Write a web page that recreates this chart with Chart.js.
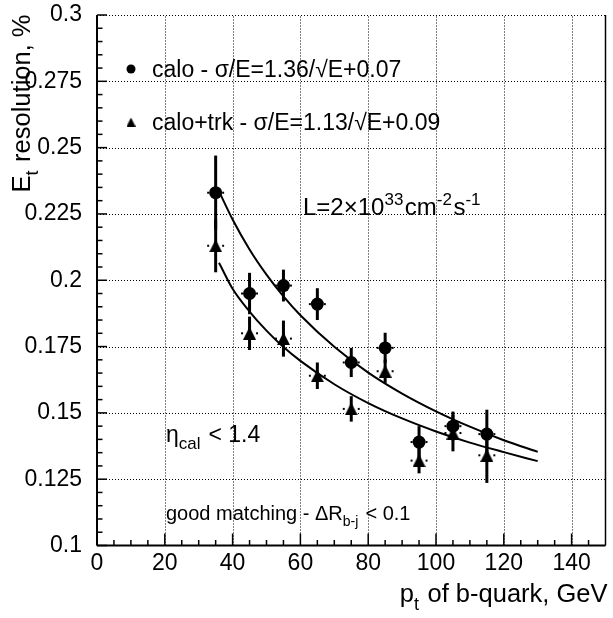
<!DOCTYPE html>
<html lang="en">
<head>
<meta charset="UTF-8" />
<title>Et resolution vs pt of b-quark</title>
<script src="https://cdn.jsdelivr.net/npm/chart.js"></script>
<style>
  html, body { margin: 0; padding: 0; background: #fff; }
</style>
</head>
<body>
<canvas id="resChart" width="613" height="618"></canvas>
<script>
// measured points, pt bin centres in GeV
const ptBins = [35, 45, 55, 65, 75, 85, 95, 105, 115];
const caloRes = [0.233, 0.195, 0.198, 0.191, 0.169, 0.1745, 0.139, 0.145, 0.142];
const caloErr = [0.014, 0.0078, 0.006, 0.006, 0.0055, 0.0057, 0.006, 0.0055, 0.0092];
const trkRes = [0.213, 0.180, 0.178, 0.164, 0.1515, 0.1657, 0.132, 0.1424, 0.134];
const trkErr = [0.010, 0.0063, 0.0068, 0.005, 0.0048, 0.0044, 0.0048, 0.0069, 0.0104];
const ptErr = 2.5;

// fitted curves
const fitPt = [36, 40, 45, 50, 55, 60, 70, 80, 90, 100, 110, 120, 130];
const caloFit = [0.2335, 0.2229, 0.2116, 0.2021, 0.1939, 0.1868, 0.1749, 0.1652, 0.1573, 0.1506, 0.1448, 0.1397, 0.1353];
const trkFit = [0.2066, 0.1968, 0.1882, 0.1810, 0.1748, 0.1696, 0.1608, 0.1537, 0.1479, 0.1430, 0.1388, 0.1352, 0.1318];

const FONT = '"Liberation Sans", Arial, Helvetica, sans-serif';

function pts(xs, ys) {
  return xs.map((x, i) => ({ x: x, y: ys[i] }));
}

function triangleMarker(w, h) {
  const c = document.createElement('canvas');
  c.width = w;
  c.height = h;
  const g = c.getContext('2d');
  g.fillStyle = '#000';
  g.beginPath();
  g.moveTo(w / 2, 0);
  g.lineTo(w, h);
  g.lineTo(0, h);
  g.closePath();
  g.fill();
  return c;
}

// parts: [text, 'n' | 'sub' | 'sup']
function richText(ctx, x, y, parts, size, align) {
  const fontFor = (m) => (m === 'n' ? size : Math.round(size * 0.72)) + 'px ' + FONT;
  let w = 0;
  parts.forEach(([t, m]) => { ctx.font = fontFor(m); w += ctx.measureText(t).width; });
  let cx = align === 'right' ? x - w : x;
  ctx.textAlign = 'left';
  ctx.textBaseline = 'alphabetic';
  ctx.fillStyle = '#000';
  parts.forEach(([t, m]) => {
    ctx.font = fontFor(m);
    let dy = 0;
    if (m === 'sub') dy = size * 0.3;
    if (m === 'sup') dy = -size * 0.42;
    ctx.fillText(t, cx, y + dy);
    cx += ctx.measureText(t).width + (m === 'n' ? 0 : 1.5);
  });
}

function line(ctx, x1, y1, x2, y2) {
  ctx.beginPath();
  ctx.moveTo(x1, y1);
  ctx.lineTo(x2, y2);
  ctx.stroke();
}

const rootFrame = {
  id: 'rootFrame',
  beforeDatasetsDraw(chart) {
    const ctx = chart.ctx;
    const sx = chart.scales.x, sy = chart.scales.y;
    const L = sx.left, R = sx.right, T = sy.top, B = sy.bottom;
    ctx.save();
    // dotted grid
    ctx.strokeStyle = '#000';
    ctx.lineWidth = 1;
    ctx.setLineDash([1, 2]);
    for (let v = 20; v < 150; v += 20) {
      const p = Math.round(sx.getPixelForValue(v)) + 0.5;
      line(ctx, p, B, p, T);
    }
    for (let k = 1; k <= 8; k++) {
      const p = Math.round(sy.getPixelForValue(0.1 + k * 0.025)) + 0.5;
      line(ctx, L, p, R, p);
    }
    ctx.setLineDash([]);

    // error bars
    const drawErr = (ys, errs) => {
      ptBins.forEach((x, i) => {
        const px = sx.getPixelForValue(x);
        const py = sy.getPixelForValue(ys[i]);
        ctx.lineWidth = 3;
        line(ctx, px, sy.getPixelForValue(ys[i] + errs[i]), px, sy.getPixelForValue(ys[i] - errs[i]));
        const half = sx.getPixelForValue(x + ptErr) - px;
        ctx.lineWidth = 2;
        line(ctx, px - half, py, px - 6.5, py);
        line(ctx, px + 6.5, py, px + half, py);
      });
    };
    drawErr(caloRes, caloErr);
    drawErr(trkRes, trkErr);
    ctx.restore();
  },
  afterDraw(chart) {
    const ctx = chart.ctx;
    const sx = chart.scales.x, sy = chart.scales.y;
    const L = sx.left, R = sx.right, T = sy.top, B = sy.bottom;
    ctx.save();
    ctx.strokeStyle = '#000';
    ctx.lineWidth = 2;
    line(ctx, L, B, R, B);
    line(ctx, L, B, L, T);
    ctx.lineWidth = 1.5;
    line(ctx, R, B, R, T);

    // tick marks, pointing inwards
    ctx.lineWidth = 1.5;
    for (let v = 0; v < 150; v += 5) {
      const p = sx.getPixelForValue(v);
      line(ctx, p, B, p, B - (v % 20 === 0 ? 12 : 5.5));
    }
    for (let k = 0; k <= 40; k++) {
      const p = sy.getPixelForValue(0.1 + k * 0.005);
      line(ctx, L, p, L + (k % 5 === 0 ? 10 : 5.5), p);
    }

    // legend
    ctx.fillStyle = '#000';
    ctx.beginPath();
    ctx.arc(131, 69, 4.5, 0, Math.PI * 2);
    ctx.fill();
    ctx.drawImage(triangleMarker(9, 9), 126.5, 117.5);
    richText(ctx, 152, 77, [['calo - σ/E=1.36/√E+0.07', 'n']], 23);
    richText(ctx, 152, 130, [['calo+trk - σ/E=1.13/√E+0.09', 'n']], 23);

    // annotations
    richText(ctx, 303, 215, [['L=2×10', 'n'], ['33', 'sup'], ['cm', 'n'], ['-2', 'sup'], ['s', 'n'], ['-1', 'sup']], 24);
    richText(ctx, 166, 442, [['η', 'n'], ['cal', 'sub'], [' < 1.4', 'n']], 23);
    richText(ctx, 166, 520, [['good matching - ΔR', 'n'], ['b-j', 'sub'], [' < 0.1', 'n']], 20);

    // axis titles
    richText(ctx, 606, 602, [['p', 'n'], ['t', 'sub'], [' of b-quark, GeV', 'n']], 25.5, 'right');
    ctx.translate(30, 16);
    ctx.rotate(-Math.PI / 2);
    richText(ctx, 0, 0, [['E', 'n'], ['t', 'sub'], [' resolution, %', 'n']], 25.5, 'right');
    ctx.restore();
  }
};

const ctx = document.getElementById('resChart').getContext('2d');
const resChart = new Chart(ctx, {
  type: 'scatter',
  data: {
    datasets: [
      {
        label: 'calo',
        data: pts(ptBins, caloRes),
        pointStyle: 'circle',
        pointRadius: 6.5,
        backgroundColor: '#000',
        borderColor: '#000',
        borderWidth: 0,
        showLine: false
      },
      {
        label: 'calo+trk',
        data: pts(ptBins, trkRes),
        pointStyle: triangleMarker(13, 13),
        pointRadius: 6.5,
        backgroundColor: '#000',
        borderColor: '#000',
        showLine: false
      },
      {
        label: 'calo fit',
        data: pts(fitPt, caloFit),
        showLine: true,
        pointRadius: 0,
        borderColor: '#000',
        borderWidth: 2,
        cubicInterpolationMode: 'monotone',
        fill: false
      },
      {
        label: 'calo+trk fit',
        data: pts(fitPt, trkFit),
        showLine: true,
        pointRadius: 0,
        borderColor: '#000',
        borderWidth: 2,
        cubicInterpolationMode: 'monotone',
        fill: false
      }
    ]
  },
  options: {
    responsive: false,
    animation: false,
    devicePixelRatio: 1,
    layout: { padding: { top: 15, right: 1, left: 0, bottom: 0 } },
    plugins: { legend: { display: false }, tooltip: { enabled: false } },
    scales: {
      x: {
        type: 'linear',
        min: 0,
        max: 150,
        grid: { display: false },
        border: { display: false },
        ticks: {
          stepSize: 20,
          includeBounds: false,
          padding: -1,
          maxRotation: 0,
          color: '#000',
          font: { family: FONT, size: 23, lineHeight: 1 }
        },
        afterFit: (s) => {
          s.height = 72.5;
          s.paddingLeft = 0;
          s.paddingRight = 0;
        }
      },
      y: {
        type: 'linear',
        min: 0.1,
        max: 0.3,
        grid: { display: false },
        border: { display: false },
        ticks: {
          stepSize: 0.025,
          padding: 7,
          color: '#000',
          font: { family: FONT, size: 23 },
          callback: (v) => String(+v.toFixed(3))
        },
        afterFit: (s) => {
          s.width = 97;
          s.paddingTop = 0;
          s.paddingBottom = 0;
        }
      }
    }
  },
  plugins: [rootFrame]
});
</script>
</body>
</html>
